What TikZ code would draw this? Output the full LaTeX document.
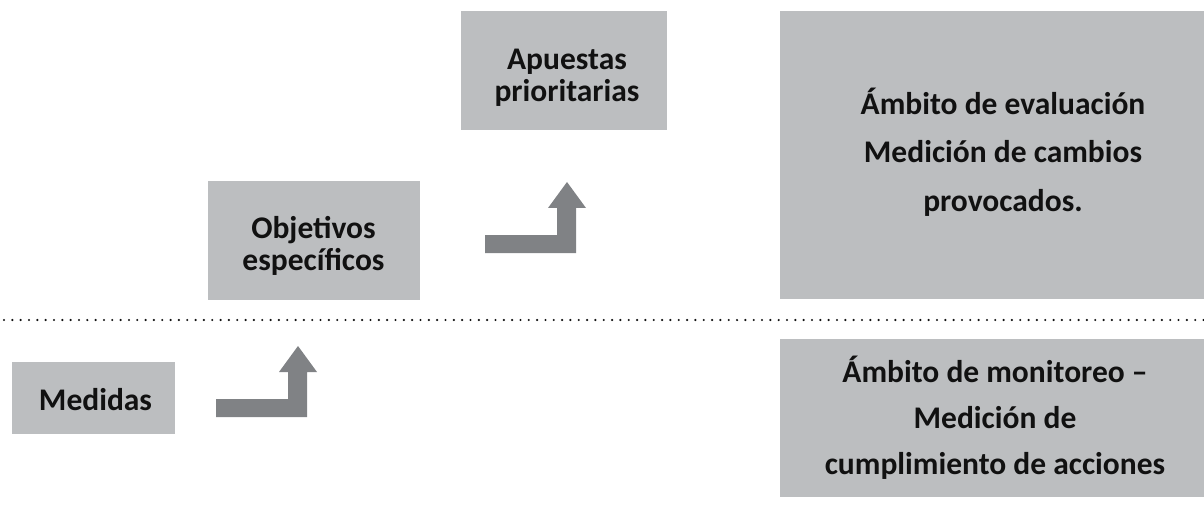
\documentclass[tikz,border=0pt]{standalone}
\usepackage{fontspec}
\setmainfont{Carlito}
\definecolor{boxgray}{HTML}{BCBEC0}
\definecolor{arrowgray}{HTML}{808285}
\definecolor{inkblack}{HTML}{111111}
\begin{document}
\begin{tikzpicture}[x=1pt,y=-1pt,
  box/.style={fill=boxgray, draw=none, inner sep=0pt, anchor=center},
  txt/.style={inner sep=0pt, align=center, text=inkblack, font=\bfseries\fontsize{31.5}{31.5}\selectfont},
  bigtxt/.style={txt, font=\bfseries\fontsize{31.5}{48.5}\selectfont},
  midtxt/.style={txt, font=\bfseries\fontsize{31.5}{46}\selectfont},
  bentarrow/.pic={
    \fill[arrowgray] (0,0) -- (72,0) -- (72,-27) -- (63,-27) -- (82,-53) -- (101,-27) -- (91,-27) -- (91,18) -- (0,18) -- cycle;
  }
]
\useasboundingbox (0,0) rectangle (1204,505);

% boxes
\node[box, minimum width=206, minimum height=119] (apuestas) at (564,70.5) {};
\node[txt] (apuestastxt) at (567,78) {Apuestas\\prioritarias};

\node[box, minimum width=212, minimum height=119] (objetivos) at (314,240.5) {};
\node[txt] (objetivostxt) at (313.5,246) {Objetivos\\específicos};

\node[box, minimum width=163, minimum height=72] (medidas) at (93.5,398) {};
\node[txt] (medidastxt) at (95.5,400) {Medidas};

\node[box, minimum width=424, minimum height=288] (evaluacion) at (992,155) {};
\node[bigtxt] (evaluaciontxt) at (1003,152) {Ámbito de evaluación\\Medición de cambios\\provocados.};

\node[box, minimum width=424, minimum height=158] (monitoreo) at (992,418) {};
\node[midtxt] (monitoreotxt) at (995,418) {Ámbito de monitoreo –\\Medición de\\cumplimiento de acciones};

% dotted separator
\coordinate (sepL) at (4,320);
\coordinate (sepR) at (1204,320);
\draw[inkblack, line width=2.4pt, line cap=round, dash pattern=on 0pt off 8.33pt] (sepL) -- (sepR);

% bent arrows
\pic at (485,235) {bentarrow};
\pic at (216,399) {bentarrow};
\end{tikzpicture}
\end{document}
